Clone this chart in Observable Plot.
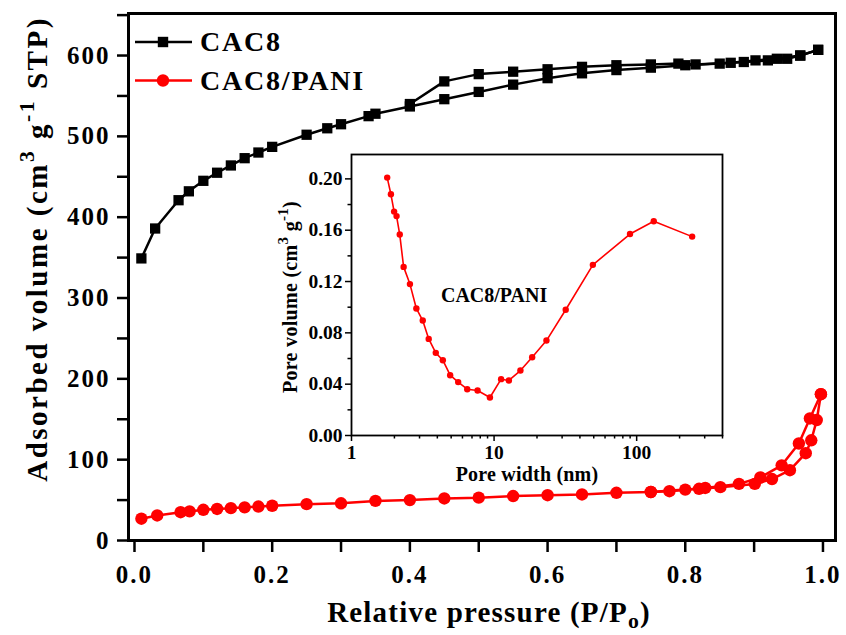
<!DOCTYPE html>
<html><head><meta charset="utf-8">
<script src="https://cdn.jsdelivr.net/npm/d3@7"></script>
<script src="https://cdn.jsdelivr.net/npm/@observablehq/plot@0.6"></script>
<style>
body{margin:0;background:#fff;}
#chart{position:relative;width:846px;height:635px;overflow:hidden;}
#inset{position:absolute;left:260px;top:140px;}
.mainax text{letter-spacing:2px;}
</style>
</head><body><div id="chart"><div id="main"></div><div id="inset"></div></div>
<script>
// ---- Main isotherm data (relative pressure P/Po, adsorbed volume cm3/g STP)
const cac8AdsP = [0.01,0.03,0.064,0.079,0.10,0.12,0.14,0.16,0.18,0.20,0.25,0.28,0.30,0.34,0.35,0.40,0.45,0.50,0.55,0.60,0.65,0.70,0.75,0.80,0.85,0.885,0.92,0.948,0.967,0.993];
const cac8AdsV = [349,386,421,432,445,455,464,473,480,487,502,510,515,525,528,537,546,555,564,572,578,582,585,588,590,592,594,596,600,607];
const cac8DesP = [0.993,0.967,0.933,0.902,0.866,0.815,0.79,0.75,0.70,0.65,0.60,0.55,0.50,0.45,0.40];
const cac8DesV = [607,600,596,594,591,589,590,589,588,586,583,580,577,568,540];
const paniAdsP = [0.01,0.033,0.067,0.08,0.10,0.12,0.14,0.16,0.18,0.20,0.25,0.30,0.35,0.40,0.45,0.50,0.55,0.60,0.65,0.70,0.75,0.80,0.82,0.851,0.901,0.926,0.952,0.975,0.983,0.991,0.997];
const paniAdsV = [27,31,35,36,38,39,40,41,42,43,45,46,49,50,52,53,55,56,57,59,60,63,64,66,70,76,87,108,124,149,181];
const paniDesP = [0.997,0.981,0.965,0.940,0.909,0.878,0.829,0.777,0.75];
const paniDesV = [181,151,120,93,78,70,65,61,60];
// ---- Inset pore size distribution
const poreWidth = [1.78,1.89,1.99,2.07,2.18,2.32,2.57,2.85,3.16,3.48,3.90,4.37,4.92,5.60,6.48,7.66,9.35,11.2,12.7,15.3,18.5,23.3,31.8,49.3,89.8,131.8,245];
const poreVolume = [0.201,0.188,0.1745,0.171,0.1566,0.1314,0.118,0.099,0.0896,0.0753,0.0644,0.0587,0.047,0.0416,0.0361,0.0351,0.0296,0.0439,0.0429,0.0506,0.061,0.074,0.098,0.133,0.157,0.167,0.155];
// ---- Ticks & labels
const xTicks = [0,0.1,0.2,0.3,0.4,0.5,0.6,0.7,0.8,0.9,1.0];
const yTicks = [0,50,100,150,200,250,300,350,400,450,500,550,600,650];
const insetYMajor = [0,0.04,0.08,0.12,0.16,0.20];
const insetYMinor = [0.02,0.06,0.10,0.14,0.18];
const insetXMajor = [1,10,100];
const insetXMinor = [2,3,4,5,6,7,8,9,20,30,40,50,60,70,80,90,200,300,400];
const seriesNames = ["CAC8","CAC8/PANI"];
const insetLabel = {text:"CAC8/PANI", x:10, y:0.109};

const zip = (xs, ys) => xs.map((x,i)=>({x, y: ys[i]}));
const cac8Ads = zip(cac8AdsP, cac8AdsV), cac8Des = zip(cac8DesP, cac8DesV);
const paniAds = zip(paniAdsP, paniAdsV), paniDes = zip(paniDesP, paniDesV);
const pore = zip(poreWidth, poreVolume);

const serif = "'Liberation Serif','Times New Roman',serif";
const RED = "#ff0000";

const main = Plot.plot({
  width: 846, height: 635,
  marginLeft: 128, marginRight: 11, marginTop: 13, marginBottom: 95,
  x: {domain: [-0.0087, 1.0182]},
  y: {domain: [0, 652]},
  style: {fontFamily: serif, fontWeight: "bold", background: "white", color: "black"},
  marks: [
    Plot.axisX({ticks: xTicks, tickSize: 12, tickPadding: 13, strokeWidth: 2.5, fontSize: 25, className: "mainax",
      tickFormat: d => (Math.round(d*10) % 2 === 0 ? d.toFixed(1) : ""), label: null}),
    Plot.axisY({ticks: yTicks, tickSize: 11, tickPadding: 7, strokeWidth: 2.5, fontSize: 25, className: "mainax",
      tickFormat: d => (d % 100 === 0 && d <= 600 ? String(d) : ""), label: null}),
    Plot.line(cac8Ads, {x: "x", y: "y", stroke: "black", strokeWidth: 2.5}),
    Plot.line(cac8Des, {x: "x", y: "y", stroke: "black", strokeWidth: 2.5}),
    Plot.dot(cac8Ads.concat(cac8Des), {x: "x", y: "y", symbol: "square", r: 5.8, fill: "black"}),
    Plot.line(paniAds, {x: "x", y: "y", stroke: RED, strokeWidth: 2.5}),
    Plot.line(paniDes, {x: "x", y: "y", stroke: RED, strokeWidth: 2.5}),
    Plot.dot(paniAds.concat(paniDes), {x: "x", y: "y", r: 6.2, fill: RED}),
    Plot.frame({strokeWidth: 3})
  ]
});
document.getElementById("main").appendChild(main);

// inset: frame left 351, right 722, top 154, bottom 435 (page coords); div at 260,140
const inset = Plot.plot({
  width: 480, height: 360,
  marginLeft: 91, marginRight: 18, marginTop: 14, marginBottom: 65,
  x: {type: "log", domain: [1, 400]},
  y: {domain: [0, 0.219]},
  style: {fontFamily: serif, fontWeight: "bold", background: "transparent", color: "black", overflow: "visible"},
  marks: [
    Plot.frame({fill: "white", stroke: "none"}),
    Plot.axisY({ticks: insetYMajor, tickSize: 6, tickPadding: 3, strokeWidth: 1.5, fontSize: 19.5, tickFormat: d3.format(".2f"), label: null}),
    Plot.axisY({ticks: insetYMinor, tickSize: 3.5, strokeWidth: 1.5, tickFormat: () => "", label: null}),
    Plot.axisX({ticks: insetXMajor, tickSize: 6, tickPadding: 4, strokeWidth: 1.5, fontSize: 19.5, tickFormat: d => String(d), label: null}),
    Plot.axisX({ticks: insetXMinor, tickSize: 3.5, strokeWidth: 1.5, tickFormat: () => "", label: null}),
    Plot.line(pore, {x: "x", y: "y", stroke: RED, strokeWidth: 1.6}),
    Plot.dot(pore, {x: "x", y: "y", r: 3.2, fill: RED}),
    Plot.text([insetLabel], {x: "x", y: "y", text: "text", fontSize: 20, fontWeight: "bold", fill: "black"}),
    Plot.frame({strokeWidth: 1.8})
  ]
});
document.getElementById("inset").appendChild(inset);

// ---- text titles & legend
const ms = d3.select(main);
function title(sel, o) {
  const t = sel.append("text").attr("font-family", serif).attr("font-weight", "bold")
    .attr("font-size", o.size).attr("text-anchor", "middle").attr("fill", "black")
    .style("letter-spacing", o.ls + "px")
    .attr("transform", `translate(${o.x},${o.y}) rotate(${o.rot||0})`);
  o.parts.forEach(p => {
    const ts = t.append("tspan").text(p.t);
    if (p.sup) ts.attr("font-size", o.size*0.75).attr("dy", -o.size*0.45);
    if (p.sub) ts.attr("font-size", o.size*0.75).attr("dy", o.size*0.22);
    if (p.back) ts.attr("dy", p.back);
  });
  return t;
}
title(ms, {x: 489, y: 622, size: 29, ls: 1.2, parts: [{t: "Relative pressure (P/P"}, {t: "o", sub: true}, {t: ")", back: -29*0.22}]});
title(ms, {x: 47, y: 249, size: 29, ls: 2.5, rot: -90, parts: [
  {t: "Adsorbed volume (cm"}, {t: "3", sup: true}, {t: " g", back: 29*0.45},
  {t: "-1", sup: true}, {t: " STP)", back: 29*0.45}]});

// legend
const lg = ms.append("g");
[["black", "square"], [RED, "circle"]].forEach(([c, s], i) => {
  const y = 42 + i*38.5;
  lg.append("line").attr("x1", 135).attr("x2", 192).attr("y1", y).attr("y2", y).attr("stroke", c).attr("stroke-width", 2.5);
  if (s === "square") lg.append("rect").attr("x", 163-5.2).attr("y", y-5.2).attr("width", 10.4).attr("height", 10.4).attr("fill", c);
  else lg.append("circle").attr("cx", 163).attr("cy", y).attr("r", 6.2).attr("fill", c);
  lg.append("text").attr("x", 200).attr("y", y + 9).attr("text-anchor", "start").attr("font-family", serif).attr("font-weight", "bold")
    .attr("font-size", 28).style("letter-spacing", "1.8px").attr("fill", "black").text(seriesNames[i]);
});

const is = d3.select(inset);
title(is, {x: 527-260, y: 481-140, size: 20, ls: 0.2, parts: [{t: "Pore width (nm)"}]});
title(is, {x: 297-260, y: 297-140, size: 20, ls: 0.3, rot: -90, parts: [
  {t: "Pore volume (cm"}, {t: "3", sup: true}, {t: " g", back: 20*0.45}, {t: "-1", sup: true}, {t: ")", back: 20*0.45}]});
</script>
</body></html>
